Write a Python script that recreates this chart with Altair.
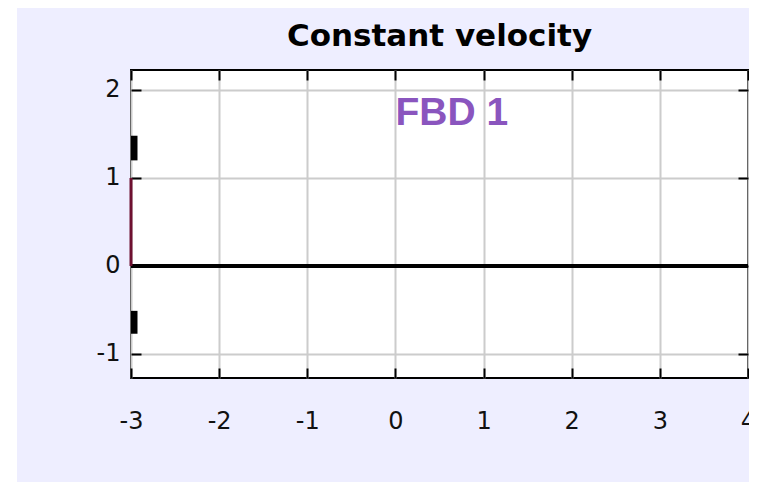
import altair as alt
import pandas as pd

# ---- data ----
x_ticks = [-3, -2, -1, 0, 1, 2, 3, 4]
y_ticks = [-1, 0, 1, 2]
x_domain = [-3, 4]
y_domain = [-1.273, 2.227]

# horizontal baseline (y = 0)
base_x = [-3, 4]
base_y = [0, 0]

# dark red vertical segment at x = -3
red_x = [-3]
red_y0 = [0]
red_y1 = [1]

# short thick black segments at x = -3
seg_x = [-3, -3]
seg_y0 = [1.20, -0.77]
seg_y1 = [1.48, -0.51]

# annotation
label_text = ["FBD 1"]
label_x = [0]
label_y = [1.6]

TITLE = "Constant velocity"

xs = alt.Scale(domain=x_domain, nice=False, zero=False)
ys = alt.Scale(domain=y_domain, nice=False, zero=False)

label_font = "DejaVu Sans"
label_size = 24
LABEL_EXPR = "'' + datum.value"  # plain hyphen-minus like the reference


def tick_axis(orient):
    vals = x_ticks if orient in ("top", "bottom") else y_ticks
    return alt.Axis(orient=orient, values=vals, offset=-10, tickSize=10,
                    tickWidth=2, tickColor="black", labels=False,
                    domain=False, grid=False, title=None)


# white strip at the very left of the page
strip = alt.Chart(pd.DataFrame({"a": [0]})).mark_rect(
    fill="white", clip=False
).encode(x=alt.value(-130), x2=alt.value(-114),
         y=alt.value(-62), y2=alt.value(412))

base_df = pd.DataFrame({"x": base_x, "y": base_y})
base = alt.Chart(base_df).mark_line(color="black", strokeWidth=4).encode(
    x=alt.X("x:Q", scale=xs, axis=alt.Axis(
        orient="bottom", values=x_ticks, grid=True, gridColor="#CCCCCC",
        gridWidth=2, domain=False, ticks=False, tickSize=0,
        labelFont=label_font, labelFontSize=label_size, labelColor="#111",
        labelBaseline="alphabetic", labelPadding=50, labelFlush=False,
        labelOverlap=False, labelBound=False, labelExpr=LABEL_EXPR,
        title=None)),
    y=alt.Y("y:Q", scale=ys, axis=alt.Axis(
        orient="left", values=y_ticks, grid=True, gridColor="#CCCCCC",
        gridWidth=2, domain=False, ticks=False, tickSize=0,
        labelFont=label_font, labelFontSize=label_size, labelColor="#111",
        labelBaseline="middle", labelPadding=11, labelFlush=False,
        labelOverlap=False, labelExpr=LABEL_EXPR, title=None)),
)

red_df = pd.DataFrame({"x": red_x, "y": red_y0, "y2": red_y1})
red = alt.Chart(red_df).mark_rule(color="#6E1030", strokeWidth=3).encode(
    x=alt.X("x:Q", scale=xs, axis=tick_axis("top")),
    y=alt.Y("y:Q", scale=ys, axis=tick_axis("right")),
    y2="y2:Q",
)

seg_df = pd.DataFrame({"x": seg_x, "y": seg_y0, "y2": seg_y1})
segs = alt.Chart(seg_df).mark_rule(color="black", strokeWidth=13, clip=True).encode(
    x=alt.X("x:Q", scale=xs, axis=tick_axis("bottom")),
    y=alt.Y("y:Q", scale=ys, axis=tick_axis("left")),
    y2="y2:Q",
)

txt_df = pd.DataFrame({"x": label_x, "y": label_y, "t": label_text})
txt = alt.Chart(txt_df).mark_text(
    font="Liberation Sans", fontWeight="bold", fontSize=39,
    color="#8A55BE", align="left", baseline="alphabetic"
).encode(
    x=alt.X("x:Q", scale=xs, axis=None),
    y=alt.Y("y:Q", scale=ys, axis=None),
    text="t:N",
)

chart = alt.layer(strip, base, red, segs, txt).resolve_axis(
    x="independent", y="independent"
).properties(
    width=617, height=308,
    padding={"left": 123, "top": 62, "right": 1, "bottom": 104},
    autosize=alt.AutoSizeParams(type="none"),
    background="#EEEEFF",
    title=alt.TitleParams(TITLE, font="DejaVu Sans", fontWeight="bold",
                          fontSize=31, color="black", anchor="middle",
                          frame="group", baseline="alphabetic", offset=-69),
).configure_view(stroke="black", strokeWidth=2, fill="white")

chart.save("out.html", embed_options={"renderer": "svg", "actions": False})
